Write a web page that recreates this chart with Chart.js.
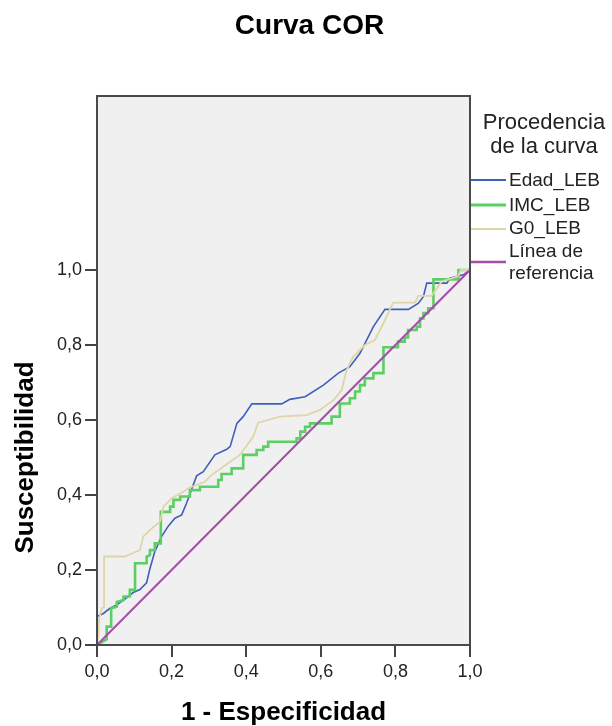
<!DOCTYPE html>
<html><head><meta charset="utf-8">
<script src="https://cdn.jsdelivr.net/npm/chart.js@4"></script>
<style>html,body{margin:0;padding:0;background:#fff}canvas{display:block}</style>
</head><body>
<canvas id="c" width="612" height="726"></canvas>
<script>
const chartTitle = 'Curva COR';
const xTitle = '1 - Especificidad';
const yTitle = 'Susceptibilidad';
const legendTitle = ['Procedencia', 'de la curva'];
const seriesNames = ['Edad_LEB', 'IMC_LEB', 'G0_LEB', 'Línea de referencia'];
const xTicks = [0, 0.2, 0.4, 0.6, 0.8, 1.0];
const yTicks = [0, 0.2, 0.4, 0.6, 0.8, 1.0];

const edadX = [0,0,0.017,0.035,0.053,0.071,0.097,0.115,0.133,0.142,0.155,0.173,0.191,0.209,0.227,0.24,0.267,0.285,0.316,0.348,0.357,0.375,0.392,0.415,0.495,0.517,0.558,0.607,0.647,0.678,0.705,0.741,0.772,0.835,0.861,0.875,0.884,0.938,0.946,0.982,1];
const edadY = [0,0.076,0.084,0.098,0.107,0.12,0.14,0.148,0.166,0.204,0.249,0.289,0.317,0.338,0.347,0.378,0.451,0.462,0.507,0.522,0.529,0.591,0.609,0.643,0.643,0.655,0.662,0.693,0.725,0.742,0.778,0.849,0.895,0.895,0.911,0.929,0.965,0.965,0.978,0.987,1];

const imcX = [0,0.026,0.026,0.038,0.038,0.053,0.053,0.071,0.071,0.088,0.088,0.102,0.102,0.133,0.133,0.142,0.142,0.155,0.155,0.171,0.171,0.196,0.196,0.205,0.205,0.223,0.223,0.249,0.249,0.276,0.276,0.325,0.325,0.334,0.334,0.361,0.361,0.392,0.392,0.428,0.428,0.446,0.446,0.459,0.459,0.535,0.535,0.545,0.545,0.558,0.558,0.571,0.571,0.629,0.629,0.651,0.651,0.678,0.678,0.692,0.692,0.705,0.705,0.718,0.718,0.741,0.741,0.768,0.768,0.807,0.807,0.825,0.825,0.834,0.834,0.857,0.857,0.866,0.866,0.875,0.875,0.888,0.888,0.902,0.902,0.969,0.969,1];
const imcY = [0,0.015,0.049,0.049,0.098,0.102,0.115,0.12,0.129,0.13,0.147,0.147,0.218,0.218,0.235,0.24,0.253,0.253,0.271,0.271,0.355,0.355,0.369,0.369,0.387,0.387,0.396,0.396,0.413,0.413,0.422,0.422,0.44,0.44,0.456,0.456,0.471,0.471,0.507,0.507,0.52,0.52,0.529,0.529,0.542,0.542,0.551,0.551,0.569,0.569,0.582,0.582,0.591,0.591,0.609,0.609,0.644,0.644,0.658,0.658,0.676,0.676,0.693,0.693,0.711,0.711,0.725,0.725,0.794,0.794,0.809,0.809,0.82,0.82,0.84,0.84,0.849,0.849,0.871,0.871,0.885,0.885,0.898,0.898,0.975,0.975,1,1];

const g0X = [0,0.004,0.006,0.013,0.019,0.019,0.075,0.093,0.115,0.124,0.147,0.169,0.178,0.2,0.223,0.249,0.29,0.307,0.339,0.383,0.419,0.432,0.491,0.562,0.598,0.634,0.656,0.669,0.687,0.718,0.745,0.768,0.794,0.853,0.861,0.897,0.924,0.969,0.975,1];
const g0Y = [0,0.03,0.07,0.098,0.1,0.236,0.236,0.244,0.253,0.289,0.311,0.329,0.369,0.391,0.404,0.42,0.436,0.453,0.476,0.507,0.556,0.593,0.609,0.613,0.627,0.653,0.68,0.733,0.769,0.8,0.813,0.858,0.913,0.913,0.931,0.931,0.969,0.984,1,1];

const refX = [0, 1];
const refY = [0, 1];

const colors = ['#3f5fbf', '#5ccf64', '#dcd6a8', '#a54ca8'];
const widths = [1.6, 2.6, 1.8, 2];

const toPts = (xs, ys) => xs.map((x, i) => ({x, y: ys[i]}));
const seriesX = [edadX, imcX, g0X, refX];
const seriesY = [edadY, imcY, g0Y, refY];

const fmt = v => v.toFixed(1).replace('.', ',');
const FONT = "'Liberation Sans', Arial, sans-serif";

const deco = {
  id: 'deco',
  beforeDraw(chart) {
    const {ctx, chartArea: a} = chart;
    ctx.save();
    ctx.fillStyle = '#f0f0f0';
    ctx.fillRect(a.left, a.top, a.right - a.left, a.bottom - a.top);
    ctx.restore();
  },
  afterDraw(chart) {
    const {ctx, chartArea: a, scales} = chart;
    ctx.save();
    ctx.strokeStyle = '#4a4a4a';
    ctx.lineWidth = 2;
    ctx.strokeRect(a.left, a.top, a.right - a.left, a.bottom - a.top);

    ctx.fillStyle = '#000';
    ctx.textAlign = 'center';
    ctx.textBaseline = 'middle';
    ctx.font = 'bold 28px ' + FONT;
    ctx.fillText(chartTitle, 309.5, 26);

    ctx.font = 'bold 26px ' + FONT;
    ctx.fillText(xTitle, (a.left + a.right) / 2, 713);

    const yc = (scales.y.getPixelForValue(0) + scales.y.getPixelForValue(1)) / 2;
    ctx.save();
    ctx.translate(26, yc);
    ctx.rotate(-Math.PI / 2);
    ctx.fillText(yTitle, 0, 0);
    ctx.restore();

    // legend
    ctx.fillStyle = '#222';
    ctx.font = '22px ' + FONT;
    ctx.fillText(legendTitle[0], 544, 123);
    ctx.fillText(legendTitle[1], 544, 147);

    ctx.textAlign = 'left';
    ctx.font = '19px ' + FONT;
    const rows = [
      {lineY: 180, text: [[seriesNames[0], 181]]},
      {lineY: 205, text: [[seriesNames[1], 206]]},
      {lineY: 229, text: [[seriesNames[2], 229]]},
      {lineY: 262, text: [['Línea de', 252], ['referencia', 274]]}
    ];
    rows.forEach((r, i) => {
      ctx.strokeStyle = colors[i];
      ctx.lineWidth = i === 1 ? 3 : (i === 3 ? 2.5 : 1.8);
      ctx.beginPath();
      ctx.moveTo(471, r.lineY);
      ctx.lineTo(506, r.lineY);
      ctx.stroke();
      r.text.forEach(([t, y]) => ctx.fillText(t, 509, y));
    });
    ctx.restore();
  }
};

new Chart(document.getElementById('c'), {
  type: 'scatter',
  data: {
    datasets: seriesNames.map((name, i) => ({
      label: name,
      data: toPts(seriesX[i], seriesY[i]),
      showLine: true,
      borderColor: colors[i],
      borderWidth: widths[i],
      pointRadius: 0,
      tension: 0,
      fill: false,
      order: [3, 2, 1, 0][i]
    }))
  },
  options: {
    responsive: false,
    animation: false,
    layout: { padding: { left: 0, right: 142, top: 96, bottom: 0 } },
    scales: {
      x: {
        type: 'linear', min: 0, max: 1,
        afterFit: s => { s.height = 81; },
        afterBuildTicks: s => { s.ticks = xTicks.map(v => ({value: v})); },
        ticks: { callback: v => fmt(v), font: { size: 18, family: FONT }, color: '#222', padding: 4, maxRotation: 0 },
        grid: { drawOnChartArea: false, drawTicks: true, tickLength: 12, color: '#444', lineWidth: 2 },
        border: { color: '#4a4a4a', width: 2 }
      },
      y: {
        type: 'linear', min: 0, max: 1.464,
        afterFit: s => { s.width = 97; },
        afterBuildTicks: s => { s.ticks = yTicks.map(v => ({value: v})); },
        ticks: { callback: v => fmt(v), font: { size: 18, family: FONT }, color: '#222', padding: 3 },
        grid: { drawOnChartArea: false, drawTicks: true, tickLength: 12, color: '#444', lineWidth: 2 },
        border: { color: '#4a4a4a', width: 2 }
      }
    },
    plugins: { legend: { display: false }, tooltip: { enabled: false }, title: { display: false } }
  },
  plugins: [deco]
});
</script>
</body></html>
